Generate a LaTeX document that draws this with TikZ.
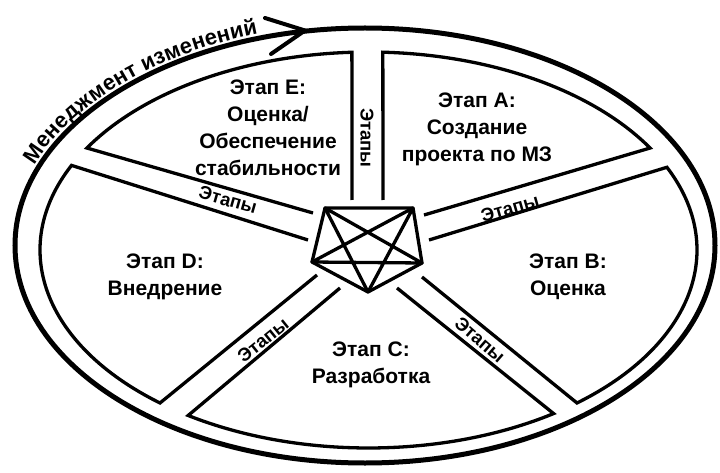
\documentclass[tikz,border=0pt]{standalone}
\usepackage{fontspec}
\setmainfont{Liberation Sans}
\usetikzlibrary{calc,decorations.text}
\begin{document}
\begin{tikzpicture}[x=1pt,y=1pt,
  sector/.style={line width=3.3pt, line join=miter},
  stagetext/.style={font=\bfseries\fontsize{21}{27}\selectfont, align=center, inner sep=0pt},
  bandtext/.style={font=\bfseries\fontsize{18.5}{18.5}\selectfont, inner sep=0pt},
  pent/.style={line width=3.3pt, line join=round, line cap=round},
  outerline/.style={line width=5pt},
  arrowbarb/.style={line width=4pt, line cap=round, line join=miter}]
\useasboundingbox (0,0) rectangle (720,-473);
\coordinate (O) at (365,-245.5);
\coordinate (I) at (368.5,-250);
% outer ellipse (change management)
\draw[outerline] (O) ellipse [x radius=350pt, y radius=217.5pt];
% arrowhead on the outer ellipse
\coordinate (tip) at (305,-30.5);
\coordinate (barbA) at (265,-18);
\coordinate (barbB) at (271,-54);
\draw[arrowbarb] (barbA) -- (tip) -- (barbB);
% text along the outer ellipse
\path[decorate, decoration={text along path, text align=center, raise=4.5pt,
  text={|\bfseries\fontsize{22}{22}\selectfont|Менеджмент изменений}}]
  ($(O)+(169:350pt and 217.5pt)$) arc[start angle=169, end angle=101, x radius=350pt, y radius=217.5pt];
% sectors
\coordinate (E1) at ($(I)+(149:328.5pt and 198pt)$);
\coordinate (A1) at ($(I)+(87.5:328.5pt and 198pt)$);
\coordinate (B1) at ($(I)+(24.7:328.5pt and 198pt)$);
\coordinate (C1) at ($(I)+(-55.7:328.5pt and 198pt)$);
\coordinate (D1) at ($(I)+(-129.4:328.5pt and 198pt)$);
\coordinate (Ein) at (313,-213);  \coordinate (Eout) at (352,-200);
\coordinate (Ain) at (383,-200);  \coordinate (Aout) at (424,-215);
\coordinate (Bin) at (429,-240);  \coordinate (Bout) at (422,-277);
\coordinate (Cin) at (397,-288);  \coordinate (Cout) at (340,-288);
\coordinate (Din) at (317,-275);  \coordinate (Dout) at (308,-240);
\draw[sector] (Ein) -- (E1) arc[start angle=149, end angle=92.9, x radius=328.5pt, y radius=198pt] -- (Eout);
\draw[sector] (Ain) -- (A1) arc[start angle=87.5, end angle=31, x radius=328.5pt, y radius=198pt] -- (Aout);
\draw[sector] (Bin) -- (B1) arc[start angle=24.7, end angle=-50.6, x radius=328.5pt, y radius=198pt] -- (Bout);
\draw[sector] (Cin) -- (C1) arc[start angle=-55.7, end angle=-123.3, x radius=328.5pt, y radius=198pt] -- (Cout);
\draw[sector] (Din) -- (D1) arc[start angle=-129.4, end angle=-205.3, x radius=328.5pt, y radius=198pt] -- (Dout);
% pentagon with all diagonals
\coordinate (P1) at (325,-208);
\coordinate (P2) at (413,-208);
\coordinate (P3) at (422,-263);
\coordinate (P4) at (368,-292);
\coordinate (P5) at (312,-262);
\draw[pent] (P1) -- (P2) -- (P3) -- (P4) -- (P5) -- cycle;
\draw[pent] (P1) -- (P3) -- (P5) -- (P2) -- (P4) -- cycle;
% stage texts
\node[stagetext] (tE) at (268,-128) {Этап E:\\Оценка/\\Обеспечение\\стабильности};
\node[stagetext] (tA) at (477,-129) {Этап A:\\Создание\\проекта по МЗ};
\node[stagetext] (tB) at (568,-277) {Этап B:\\Оценка};
\node[stagetext] (tC) at (371,-365) {Этап C:\\Разработка};
\node[stagetext] (tD) at (165,-277) {Этап D:\\Внедрение};
% band labels
\node[bandtext, rotate=-90] (b1) at (367,-138) {Этапы};
\node[bandtext, rotate=-16] (b2) at (228,-200) {Этапы};
\node[bandtext, rotate=16] (b3) at (510,-208) {Этапы};
\node[bandtext, rotate=-41] (b4) at (480,-340) {Этапы};
\node[bandtext, rotate=39] (b5) at (263,-340) {Этапы};
\end{tikzpicture}
\end{document}
